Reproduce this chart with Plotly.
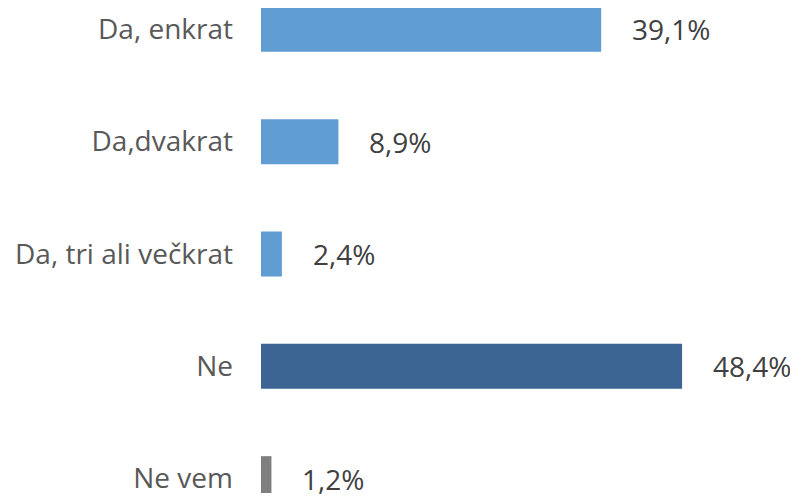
import plotly.graph_objects as go

categories = ["Da, enkrat", "Da,dvakrat", "Da, tri ali večkrat", "Ne", "Ne vem"]
values = [39.1, 8.9, 2.4, 48.4, 1.2]
labels = ["39,1%", "8,9%", "2,4%", "48,4%", "1,2%"]
colors = ["#5F9DD2", "#5F9DD2", "#5F9DD2", "#3C6594", "#7F7F7F"]

fig = go.Figure()
fig.add_trace(go.Bar(
    y=categories, x=values, orientation="h",
    marker=dict(color=colors, line=dict(width=0)),
    width=0.40, hoverinfo="skip",
))
for c, v, t in zip(categories, values, labels):
    fig.add_annotation(x=v, y=c, text=t, showarrow=False, xanchor="left",
                       xshift=29, font=dict(family="Open Sans", size=28, color="#404040"))

fig.update_layout(
    width=790, height=488,
    margin=dict(l=253, r=0, t=0, b=0),
    plot_bgcolor="white", paper_bgcolor="white",
    showlegend=False,
    xaxis=dict(range=[0, 537 / 8.70], visible=False, fixedrange=True),
    yaxis=dict(range=[4.128, -0.190], showline=False, showgrid=False, zeroline=False,
               ticks="", ticklabelstandoff=27,
               tickfont=dict(family="Open Sans", size=28, color="#595959")),
)
fig.write_html("out.html")
